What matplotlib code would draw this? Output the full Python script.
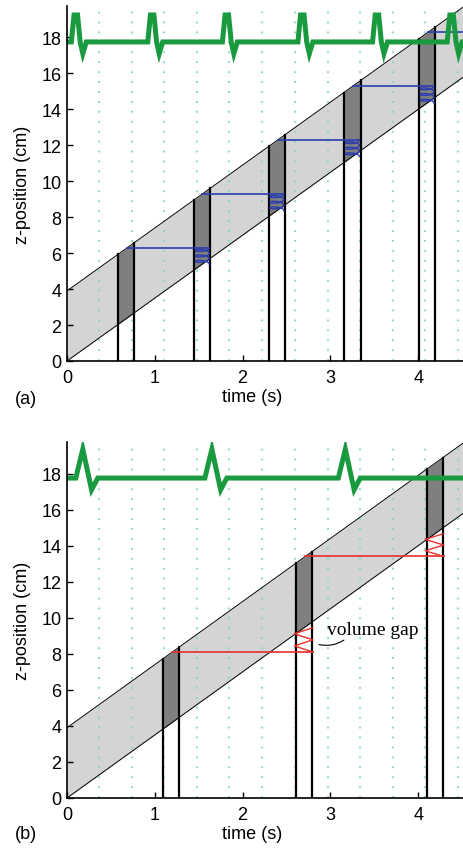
import numpy as np
import matplotlib
matplotlib.use('Agg')
import matplotlib.pyplot as plt

plt.rcParams['font.family'] = ['Liberation Sans', 'DejaVu Sans']

## table motion / band geometry (cm, s)
speed = 3.5          # cm/s
band_w = 3.9         # cm, band height at t=0
xmax = 4.51
ymax = 19.75

## dotted reference lines (s)
dotted_t = [0.37, 0.74, 1.11, 1.48, 1.85, 2.22, 2.60, 2.97, 3.34, 3.71, 4.08, 4.45]

## panel (a)
ecg_a_peaks = [0.10, 0.97, 1.82, 2.68, 3.53, 4.38]
pairs_a = [(0.58, 0.76), (1.45, 1.63), (2.30, 2.48), (3.15, 3.35), (4.01, 4.19)]
blue_levels = [6.3, 9.3, 12.3, 15.3, 18.3]

## panel (b)
ecg_b_peaks = [0.18, 1.65, 3.17]
pairs_b = [(1.09, 1.28), (2.61, 2.79), (4.10, 4.28)]
red_levels = [8.1, 13.4]

ecg_base = 17.75
ecg_a_off = [-0.05, -0.02, 0.02, 0.05, 0.08, 0.12]
ecg_a_z = [17.75, 19.25, 19.25, 17.75, 17.1, 17.75]
ecg_b_off = [-0.08, 0.0, 0.10, 0.17]
ecg_b_z = [17.75, 19.35, 17.1, 17.75]

c_light = '#d4d4d4'
c_dark = '#7f7f7f'
c_dot = '#7fd2d2'
c_green = '#1a9a3e'
c_blue = '#2b3cae'
c_red = '#e8302c'

fig = plt.figure(figsize=(4.63, 8.53), dpi=100)
W, H = 463., 853.
axA = fig.add_axes([67/W, 1-362/H, 396/W, 355/H])
axB = fig.add_axes([67/W, 1-799/H, 396/W, 356/H])


def ecg_curve(peaks, off, zz):
    tt = [0.0]
    yy = [ecg_base]
    for p in peaks:
        for o, z in zip(off, zz):
            tt.append(p + o)
            yy.append(z)
    tt.append(xmax)
    yy.append(ecg_base)
    return tt, yy


def base_panel(ax, pairs, peaks, off, zz):
    t = np.linspace(0, xmax, 200)
    ax.fill_between(t, speed*t, speed*t + band_w, color=c_light, lw=0, zorder=1)
    for x in dotted_t:
        ax.axvline(x, color=c_dot, lw=1.3, ls=(0, (1, 4.5)), zorder=2)
    for t1, t2 in pairs:
        tp = np.array([t1, t2])
        ax.fill_between(tp, speed*tp, speed*tp + band_w, color=c_dark, lw=0, zorder=3)
        for x in tp:
            ax.plot([x, x], [0, speed*x + band_w], color='black', lw=1.6, zorder=5)
    ax.plot(t, speed*t, color='black', lw=0.7, zorder=4)
    ax.plot(t, speed*t + band_w, color='black', lw=0.7, zorder=4)
    et, ez = ecg_curve(peaks, off, zz)
    ax.plot(et, ez, color=c_green, lw=3.6, zorder=6, solid_joinstyle='miter')

    ax.set_xlim(0, xmax)
    ax.set_ylim(0, ymax)
    ax.set_xticks([0, 1, 2, 3, 4])
    ax.set_yticks(np.arange(0, 19, 2))
    ax.tick_params(direction='in', length=4, width=1, labelsize=13)
    ax.tick_params(axis='x', pad=6)
    ax.tick_params(axis='y', pad=4)
    for s in ['top', 'right']:
        ax.spines[s].set_visible(False)
    for s in ['left', 'bottom']:
        ax.spines[s].set_linewidth(1.2)
        ax.spines[s].set_zorder(7)
    ax.set_xlabel('time (s)', fontsize=13)
    ax.set_ylabel('z-position (cm)', fontsize=13)
    ax.xaxis.set_label_coords(0.467, -0.075)
    ax.yaxis.set_label_coords(-0.09, 0.5)


base_panel(axA, pairs_a, ecg_a_peaks, ecg_a_off, ecg_a_z)
base_panel(axB, pairs_b, ecg_b_peaks, ecg_b_off, ecg_b_z)

## blue lines with coils, panel (a)
for i, lev in enumerate(blue_levels):
    t_start = (lev - band_w) / speed
    if i + 1 < len(pairs_a):
        t1, t2 = pairs_a[i + 1]
    else:
        t1, t2 = 4.87, 5.05
    xc = 0.5*(t1 + t2)
    zb = speed*xc
    axA.plot([t_start, t2 - 0.02], [lev, lev], color=c_blue, lw=1.2, zorder=5.5)
    th = np.linspace(0, 3*2*np.pi, 120)
    cx = xc + 0.08*np.cos(th)
    cz = lev - (lev - zb)*th/th.max() - 0.12*np.sin(th)
    axA.plot(cx + 0.0, cz, color=c_blue, lw=1.0, zorder=5.5)

## red lines with zigzags, panel (b)
for i, lev in enumerate(red_levels):
    t_start = (lev - band_w) / speed
    t1, t2 = pairs_b[i + 1]
    top = speed*0.5*(t1 + t2)
    axB.plot([t_start, t2 + 0.01], [lev, lev], color=c_red, lw=1.2, zorder=5.5)
    frac = np.array([0, 0.25, 0.5, 0.75, 1.0])
    zx = np.where(np.arange(5) % 2 == 0, t2 + 0.01, t1 - 0.02)
    axB.plot(zx, lev + frac*(top - lev), color=c_red, lw=1.0, zorder=5.5)

axB.text(2.96, 9.1, 'volume gap', fontsize=14, family=['Liberation Serif', 'DejaVu Serif'],
         ha='left', va='baseline', zorder=8)
axB.annotate('', xy=(2.84, 8.55), xytext=(3.18, 8.85),
             arrowprops=dict(arrowstyle='-', lw=0.8, color='black',
                             connectionstyle='arc3,rad=-0.25'), zorder=8)

fig.text(15/W, 1-400/H, '(a)', fontsize=13, ha='left', va='center')
fig.text(15/W, 1-835/H, '(b)', fontsize=13, ha='left', va='center')

fig.savefig('out.png', dpi=100)
